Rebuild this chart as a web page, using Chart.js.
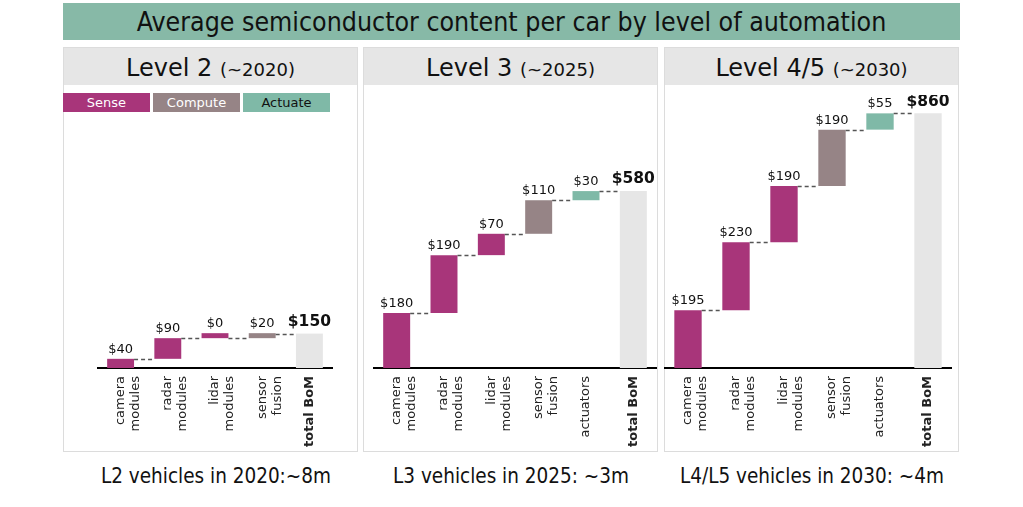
<!DOCTYPE html>
<html>
<head>
<meta charset="utf-8">
<script src="https://cdn.jsdelivr.net/npm/chart.js@4.4.1/dist/chart.umd.min.js"></script>
<style>
  html,body{margin:0;padding:0;background:#fff;}
  body{width:1023px;height:507px;position:relative;overflow:hidden;font-family:"DejaVu Sans",Verdana,sans-serif;color:#111;}
  .banner{position:absolute;left:63px;top:3px;width:897px;height:37px;background:#87b9a7;
    font-family:"DejaVu Sans Condensed","DejaVu Sans",sans-serif;font-size:26.5px;line-height:37px;text-align:center;color:#111;}
  .panel{position:absolute;top:47px;height:405px;border:1px solid #dcdcdc;box-sizing:border-box;}
  .hdr{position:absolute;left:0;top:0;right:0;height:37px;background:#e6e6e6;text-align:center;line-height:40px;font-size:24px;}
  .hdr small{font-size:18px;}
  .leg{position:absolute;top:93px;height:19px;width:87px;font-size:13px;line-height:19px;text-align:center;}
  .cap{position:absolute;top:464px;font-family:"DejaVu Sans Condensed","DejaVu Sans",sans-serif;font-size:20.5px;text-align:center;width:300px;}
  canvas{position:absolute;}
</style>
</head>
<body>
<div class="banner">Average semiconductor content per car by level of automation</div>

<div class="panel" style="left:63px;width:295px;"><div class="hdr">Level 2 <small>(~2020)</small></div></div>
<div class="panel" style="left:363px;width:295px;"><div class="hdr">Level 3 <small>(~2025)</small></div></div>
<div class="panel" style="left:664px;width:295px;"><div class="hdr">Level 4/5 <small>(~2030)</small></div></div>

<div class="leg" style="left:63px;background:#a8357a;color:#fff;">Sense</div>
<div class="leg" style="left:153px;background:#968486;color:#fff;">Compute</div>
<div class="leg" style="left:243px;background:#7fb9a7;color:#111;">Actuate</div>

<canvas id="c1"></canvas>
<canvas id="c2"></canvas>
<canvas id="c3"></canvas>

<div class="cap" style="left:66px;">L2 vehicles in 2020:~8m</div>
<div class="cap" style="left:361px;">L3 vehicles in 2025: ~3m</div>
<div class="cap" style="left:662px;">L4/L5 vehicles in 2030: ~4m</div>

<script>
// ---- data ----
const l2Categories = [["camera","modules"],["radar","modules"],["lidar","modules"],["sensor","fusion"],"total BoM"];
const l2Values     = [40, 90, 0, 20];
const l2Groups     = ["sense","sense","sense","compute"];
const l2Total      = 150;

const l3Categories = [["camera","modules"],["radar","modules"],["lidar","modules"],["sensor","fusion"],"actuators","total BoM"];
const l3Values     = [180, 190, 70, 110, 30];
const l3Groups     = ["sense","sense","sense","compute","actuate"];
const l3Total      = 580;

const l45Categories = [["camera","modules"],["radar","modules"],["lidar","modules"],["sensor","fusion"],"actuators","total BoM"];
const l45Values     = [195, 230, 190, 190, 55];
const l45Groups     = ["sense","sense","sense","compute","actuate"];
const l45Total      = 860;

// ---- styling ----
const groupColors = {sense:"#a8357a", compute:"#968486", actuate:"#7fb9a7", total:"#e6e6e6"};
const FONT = "'DejaVu Sans', Verdana, sans-serif";

const waterfallPlugin = {
  id: "waterfall",
  afterDatasetsDraw(chart) {
    const ctx = chart.ctx;
    const meta = chart.getDatasetMeta(0);
    const ys = chart.scales.y;
    const info = chart.options.plugins.waterfall;
    const n = meta.data.length;
    ctx.save();
    ctx.strokeStyle = "#555";
    ctx.lineWidth = 1.5;
    ctx.setLineDash([4, 3]);
    for (let i = 0; i < n - 1; i++) {
      const a = meta.data[i], b = meta.data[i + 1];
      const y = Math.round(ys.getPixelForValue(info.cum[i])) + 0.5;
      ctx.beginPath();
      ctx.moveTo(a.x + a.width / 2, y);
      ctx.lineTo(b.x - b.width / 2, y);
      ctx.stroke();
    }
    ctx.setLineDash([]);
    ctx.textAlign = "center";
    ctx.textBaseline = "bottom";
    for (let i = 0; i < n; i++) {
      const el = meta.data[i];
      const top = Math.min(el.y, el.base);
      const isTotal = i === n - 1;
      ctx.fillStyle = "#111";
      ctx.font = (isTotal ? "bold 15.5px " : "13px ") + FONT;
      ctx.fillText("$" + info.labels[i], el.x, top - (isTotal ? 4 : 3));
    }
    ctx.restore();
  }
};

function makeChart(id, left, width, maxY, cats, vals, groups, total) {
  const top = 95, areaBottom = 368, axisH = 85;
  const cv = document.getElementById(id);
  cv.style.left = left + "px";
  cv.style.top = top + "px";
  cv.style.width = width + "px";
  cv.style.height = (areaBottom - top + axisH) + "px";
  cv.width = width; cv.height = areaBottom - top + axisH;

  const ranges = [], cum = [], colors = [];
  let run = 0;
  vals.forEach((v, i) => {
    ranges.push([run, run + v]);
    run += v;
    cum.push(run);
    colors.push(groupColors[groups[i]]);
  });
  ranges.push([0, total]);
  colors.push(groupColors.total);
  const labels = vals.concat([total]);
  const last = cats.length - 1;

  new Chart(cv, {
    type: "bar",
    data: {
      labels: cats,
      datasets: [{
        data: ranges,
        backgroundColor: colors,
        borderWidth: 0,
        barPercentage: 0.57,
        categoryPercentage: 1.0,
        minBarLength: 5
      }]
    },
    options: {
      responsive: false,
      animation: false,
      devicePixelRatio: 1,
      layout: {padding: 0},
      plugins: {
        legend: {display: false},
        tooltip: {enabled: false},
        waterfall: {cum: cum, labels: labels}
      },
      scales: {
        x: {
          grid: {display: false, drawTicks: false},
          border: {display: true, color: "#000", width: 2},
          ticks: {
            minRotation: 90, maxRotation: 90, autoSkip: false, padding: 8,
            color: "#222",
            font: (c) => ({family: FONT, size: 13, weight: c.index === last ? "bold" : "normal", lineHeight: 1.15})
          },
          afterFit(s) { s.height = axisH; }
        },
        y: {display: false, min: 0, max: maxY}
      }
    },
    plugins: [waterfallPlugin]
  });
}

makeChart("c1", 97, 236, 1190, l2Categories, l2Values, l2Groups, l2Total);
makeChart("c2", 373, 284, 895, l3Categories, l3Values, l3Groups, l3Total);
makeChart("c3", 664, 288, 922, l45Categories, l45Values, l45Groups, l45Total);
</script>
</body>
</html>
